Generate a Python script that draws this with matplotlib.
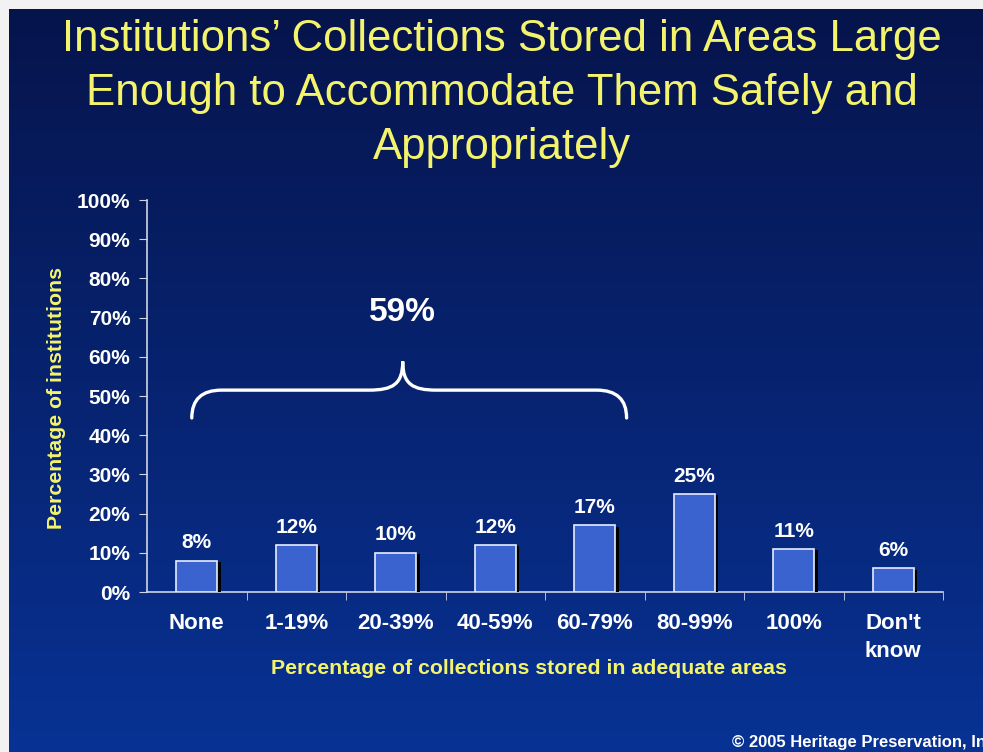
import numpy as np
import matplotlib
matplotlib.use("Agg")
import matplotlib.pyplot as plt
from matplotlib.path import Path
from matplotlib.patches import PathPatch
import matplotlib.patheffects as pe

plt.rcParams['font.family'] = ['Liberation Sans', 'DejaVu Sans']

# data
categories = ['None', '1-19%', '20-39%', '40-59%', '60-79%', '80-99%', '100%', "Don't\nknow"]
values = [8, 12, 10, 12, 17, 25, 11, 6]
bracket_n = 5  # first five categories grouped by the brace
title_lines = ["Institutions\u2019 Collections Stored in Areas Large",
               "Enough to Accommodate Them Safely and",
               "Appropriately"]

W, H = 983, 752
fig = plt.figure(figsize=(W / 100, H / 100), dpi=100, facecolor='#f2f2f2')

# gradient slide background
bg = fig.add_axes([9 / W, 0, 1 - 9 / W, 1 - 9 / H], zorder=-10)
top = np.array([6, 20, 76]) / 255
bot = np.array([8, 50, 148]) / 255
t = np.linspace(0, 1, 256)[:, None]
grad = top[None, :] * (1 - t) + bot[None, :] * t
bg.imshow(grad[:, None, :], aspect='auto', extent=[0, 1, 0, 1])
bg.set_axis_off()

yellow = '#f4f46c'
for i, line in enumerate(title_lines):
    fig.text(502 / W, 1 - (39 + 54.5 * i) / H, line, ha='center', va='center',
             color=yellow, fontsize=31.5)

ax = fig.add_axes([147 / W, 1 - 592 / H, (943 - 147) / W, (592 - 200) / H])
ax.set_facecolor('none')
x = np.arange(len(categories))
bars = ax.bar(x, values, width=0.41, color='#3b63cf', edgecolor='#e6ecff',
              linewidth=1.2, zorder=3)
for b in bars:
    b.set_path_effects([pe.SimplePatchShadow(offset=(2.5, -1), shadow_rgbFace='black', alpha=1),
                        pe.Normal()])
for xi, v in zip(x, values):
    ax.annotate(f'{v}%', (xi, v), xytext=(0, 6), textcoords='offset points',
                ha='center', va='bottom', color='white', fontsize=15, fontweight='bold')

ax.set_xlim(-0.5, len(categories) - 0.5)
ax.set_ylim(0, 100)
ax.set_yticks(np.arange(0, 101, 10))
ax.set_yticklabels([f'{v}%' for v in range(0, 101, 10)])
ax.set_xticks(x)
ax.set_xticklabels(categories, linespacing=1.45)
ax.set_xticks(np.arange(0.5, len(categories), 1), minor=True)
ax.tick_params(axis='x', which='major', length=0, pad=15, colors='white', labelsize=16)
ax.tick_params(axis='x', which='minor', length=6, color='#d0d4e4', direction='out')
ax.tick_params(axis='y', length=6, direction='out', pad=6,
               colors='white', labelsize=15)
ax.tick_params(axis='y', color='#d0d4e4')
for lab in ax.get_xticklabels() + ax.get_yticklabels():
    lab.set_fontweight('bold')
for s in ['top', 'right']:
    ax.spines[s].set_visible(False)
for s in ['left', 'bottom']:
    ax.spines[s].set_color('#d0d4e4')
    ax.spines[s].set_linewidth(1.2)

# brace over the first group
x0, x1 = -0.05, bracket_n - 1 + 0.32
xm = 2.07
yf, yt, yp = 51.5, 44.4, 58.8
r = 0.3
verts = [(x0, yt), (x0, yf), (x0 + r, yf),
         (xm - 0.34, yf),
         (xm - 0.1, yf), (xm, yf + 1.5), (xm, yp),
         (xm, yf + 1.5), (xm + 0.1, yf), (xm + 0.34, yf),
         (x1 - r, yf),
         (x1, yf), (x1, yt)]
codes = [Path.MOVETO, Path.CURVE3, Path.CURVE3,
         Path.LINETO,
         Path.CURVE4, Path.CURVE4, Path.CURVE4,
         Path.CURVE4, Path.CURVE4, Path.CURVE4,
         Path.LINETO,
         Path.CURVE3, Path.CURVE3]
ax.add_patch(PathPatch(Path(verts, codes), facecolor='none', edgecolor='white',
                       linewidth=2.4, capstyle='round', zorder=4, clip_on=False))
ax.text(xm, 71.3, f'{sum(values[:bracket_n])}%', ha='center', va='center',
        color='white', fontsize=24, fontweight='bold')

fig.text(57 / W, 1 - 398 / H, 'Percentage of institutions', rotation=90,
         ha='center', va='center', color=yellow, fontsize=15.3, fontweight='bold')
fig.text(529 / W, 1 - 668 / H, 'Percentage of collections stored in adequate areas',
         ha='center', va='center', color=yellow, fontsize=15.3, fontweight='bold')
# footer runs off the slide edge in the original too
fig.text(732 / W, 1 - 743 / H, '\u00a9 2005 Heritage Preservation, Inc.',
         ha='left', va='center', color='white', fontsize=12, fontweight='bold')

fig.savefig('out.png', dpi=100, facecolor=fig.get_facecolor())
